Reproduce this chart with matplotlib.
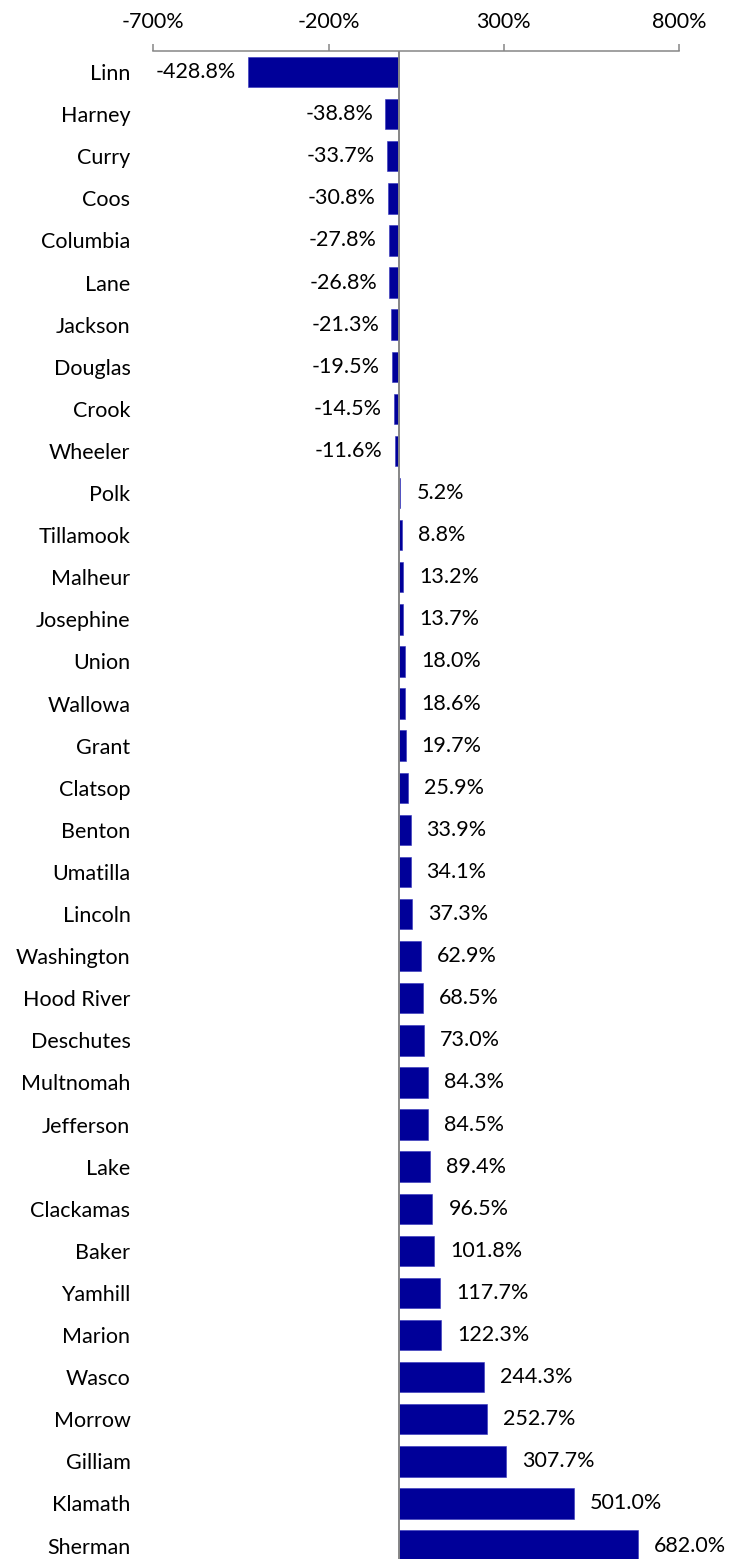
import matplotlib
matplotlib.use("Agg")
import matplotlib.pyplot as plt
from matplotlib.ticker import FixedLocator, FuncFormatter

counties = ["Linn", "Harney", "Curry", "Coos", "Columbia", "Lane", "Jackson",
            "Douglas", "Crook", "Wheeler", "Polk", "Tillamook", "Malheur",
            "Josephine", "Union", "Wallowa", "Grant", "Clatsop", "Benton",
            "Umatilla", "Lincoln", "Washington", "Hood River", "Deschutes",
            "Multnomah", "Jefferson", "Lake", "Clackamas", "Baker", "Yamhill",
            "Marion", "Wasco", "Morrow", "Gilliam", "Klamath", "Sherman"]
values = [-428.8, -38.8, -33.7, -30.8, -27.8, -26.8, -21.3, -19.5, -14.5,
          -11.6, 5.2, 8.8, 13.2, 13.7, 18.0, 18.6, 19.7, 25.9, 33.9, 34.1,
          37.3, 62.9, 68.5, 73.0, 84.3, 84.5, 89.4, 96.5, 101.8, 117.7,
          122.3, 244.3, 252.7, 307.7, 501.0, 682.0]
x_ticks = [-700, -200, 300, 800]

plt.rcParams['font.family'] = ['Lato', 'DejaVu Sans']
FS = 15.5
BAR = "#000099"
GRAY = "#868686"

W, H = 736, 1559
fig = plt.figure(figsize=(W / 100, H / 100), dpi=100)
left_px, right_px, top_px, bot_px = 153.3, 679.0, 51.0, 1566.6
ax = fig.add_axes([left_px / W, 1 - bot_px / H,
                   (right_px - left_px) / W, (bot_px - top_px) / H])

pos = list(range(len(counties)))
ax.barh(pos, values, height=0.72, color=BAR, edgecolor="#3333bb",
        linewidth=0.4, zorder=2)
ax.axvline(0, color=GRAY, linewidth=1.4, zorder=3)

ax.set_xlim(-700, 800)
ax.set_ylim(len(counties) - 0.5, -0.5)

for p, v in zip(pos, values):
    if v < 0:
        ax.annotate(f"{v:.1f}%", (v, p), xytext=(-12, 0), textcoords="offset pixels",
                    ha="right", va="center", fontsize=FS, color="black")
    else:
        ax.annotate(f"{v:.1f}%", (v, p), xytext=(16, 0), textcoords="offset pixels",
                    ha="left", va="center", fontsize=FS, color="black")

ax.xaxis.set_major_locator(FixedLocator(x_ticks))
ax.xaxis.set_major_formatter(FuncFormatter(lambda x, _: f"{x:.0f}%"))
ax.xaxis.tick_top()
ax.tick_params(axis="x", direction="out", length=5, width=1.1, color=GRAY,
               labelsize=FS, pad=9)

ax.set_yticks(pos)
ax.set_yticklabels(counties)
ax.tick_params(axis="y", length=0, labelsize=FS, pad=16.5)

for s in ["left", "right", "bottom"]:
    ax.spines[s].set_visible(False)
ax.spines["top"].set_color(GRAY)
ax.spines["top"].set_linewidth(1.1)

fig.savefig("out.png", dpi=100)
